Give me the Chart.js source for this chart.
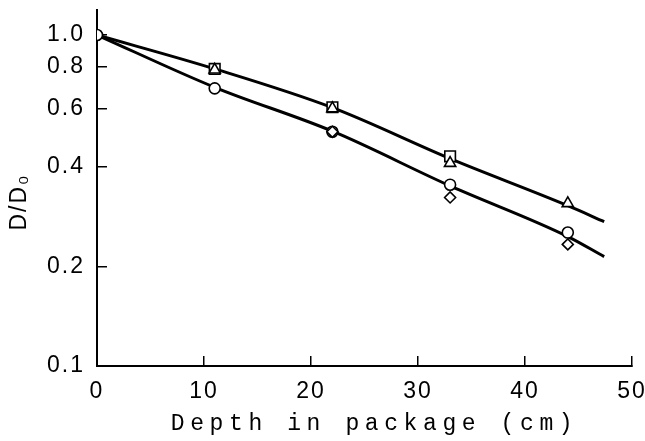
<!DOCTYPE html>
<html>
<head>
<meta charset="utf-8">
<script src="https://cdn.jsdelivr.net/npm/chart.js@4/dist/chart.umd.min.js"></script>
<style>
  html, body { margin: 0; padding: 0; background: #fff; }
  canvas { display: block; }
</style>
</head>
<body>
<canvas id="c" width="645" height="441"></canvas>
<script>
// Relative dose D/D0 against depth in the package
const depths = [0, 11, 22, 33, 44];
const squareSeries   = [null, 0.79, 0.605, 0.43, null];
const triangleSeries = [null, 0.785, 0.60, 0.41, 0.31];
const circleSeries   = [1.0, 0.69, 0.51, 0.353, 0.253];
const diamondSeries  = [null, null, 0.51, 0.323, 0.233];

// Fitted attenuation curves
const fitDepths = [0, 11, 22, 33, 44, 47.4];
const upperFit  = [1.0, 0.79, 0.603, 0.423, 0.305, 0.273];
const lowerFit  = [1.0, 0.695, 0.512, 0.35, 0.246, 0.214];

// Axis ticks
const xTicks = [0, 10, 20, 30, 40, 50];
const yTicks = [0.1, 0.2, 0.4, 0.6, 0.8, 1.0];

const toPoints = (xs, ys) => xs.map((x, i) => ({ x: x, y: ys[i] }));

const markerStyle = (style, radius, order) => ({
  showLine: false,
  pointStyle: style,
  pointRadius: radius,
  pointBackgroundColor: '#fff',
  pointBorderColor: '#000',
  pointBorderWidth: 1.6,
  order: order
});

const fitStyle = {
  showLine: true,
  borderColor: '#000',
  borderWidth: 3,
  pointRadius: 0,
  fill: false,
  cubicInterpolationMode: 'monotone',
  order: 9
};

Chart.defaults.color = '#000';
Chart.defaults.font.family = "'Liberation Sans', 'DejaVu Sans', sans-serif";

const SANS = "'Liberation Sans', 'DejaVu Sans', sans-serif";
const MONO = "'Liberation Mono', 'DejaVu Sans Mono', monospace";

// Keep the plot frame fixed: no extra room reserved for end labels
const fixPadding = (s) => {
  s.paddingTop = 0; s.paddingBottom = 0; s.paddingLeft = 0; s.paddingRight = 0;
};

// Plotter-style spaced lettering for the axis texts
const spacedText = {
  id: 'spacedText',
  beforeDraw(chart) {
    chart.ctx.letterSpacing = '2px';
    const xs = chart.scales.x, ys = chart.scales.y;
    if (!xs.__spaced) {
      const orig = xs.drawTitle;
      xs.drawTitle = function () {
        const c = this.ctx;
        c.save();
        c.letterSpacing = '5.6px';
        c.translate(10, 0);
        orig.apply(this, arguments);
        c.restore();
      };
      xs.__spaced = true;
    }
    if (!ys.__spaced) {
      const orig = ys.drawTitle;
      ys.drawTitle = function () {
        const c = this.ctx;
        c.save();
        c.translate(0, 14);
        orig.apply(this, arguments);
        c.restore();
      };
      ys.__spaced = true;
    }
  }
};

new Chart(document.getElementById('c'), {
  type: 'scatter',
  data: {
    datasets: [
      Object.assign({ data: toPoints(fitDepths, upperFit) }, fitStyle),
      Object.assign({ data: toPoints(fitDepths, lowerFit) }, fitStyle),
      Object.assign({ data: toPoints(depths, squareSeries) }, markerStyle('rect', 7.5, 4)),
      Object.assign({ data: toPoints(depths, triangleSeries) }, markerStyle('triangle', 6.5, 3)),
      Object.assign({ data: toPoints(depths, circleSeries) }, markerStyle('circle', 5.5, 2)),
      Object.assign({ data: toPoints(depths, diamondSeries) }, markerStyle('rectRot', 5.5, 1))
    ]
  },
  options: {
    responsive: false,
    animation: false,
    events: [],
    layout: { padding: { top: 10, right: 13, bottom: 0, left: 0 } },
    plugins: { legend: { display: false }, tooltip: { enabled: false } },
    scales: {
      x: {
        type: 'linear',
        position: 'bottom',
        min: 0,
        max: 50,
        afterBuildTicks: (s) => { s.ticks = xTicks.map(v => ({ value: v })); },
        afterFit: (s) => { s.height = 75; fixPadding(s); },
        ticks: {
          autoSkip: false,
          maxRotation: 0,
          padding: 22,
          font: { family: SANS, size: 23 },
          callback: (v) => String(v)
        },
        grid: { drawOnChartArea: false, tickLength: -10, color: '#000', lineWidth: 1.5 },
        border: { color: '#000', width: 2 },
        title: {
          display: true,
          text: 'Depth in package (cm)',
          font: { family: MONO, size: 23 },
          padding: { top: 0, bottom: 3 }
        }
      },
      y: {
        type: 'logarithmic',
        position: 'left',
        min: 0.1,
        max: 1.19,
        afterBuildTicks: (s) => { s.ticks = yTicks.map(v => ({ value: v })); },
        afterFit: (s) => { s.width = 97; fixPadding(s); },
        ticks: {
          autoSkip: false,
          padding: 22,
          font: { family: SANS, size: 23 },
          callback: (v) => Number(v).toFixed(1)
        },
        grid: { drawOnChartArea: false, tickLength: -10, color: '#000', lineWidth: 1.5 },
        border: { color: '#000', width: 2 },
        title: {
          display: true,
          text: 'D/D\u2080',
          font: { family: SANS, size: 23 },
          padding: { top: 6, bottom: 0 }
        }
      }
    }
  },
  plugins: [spacedText]
});
</script>
</body>
</html>
